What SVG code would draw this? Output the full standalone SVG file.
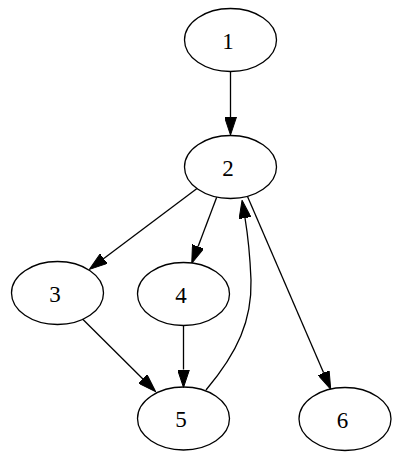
<svg xmlns="http://www.w3.org/2000/svg" width="400" height="458" viewBox="0 0 400 458">
<style>
.node ellipse{fill:none;stroke:#000;stroke-width:1.3}
.node text{font-family:"Liberation Serif","Times New Roman",serif;font-size:23px;text-anchor:middle;fill:#000}
.edge{fill:none;stroke:#000;stroke-width:1.3}
</style>
<defs>
<marker id="ah" viewBox="0 0 18 12" refX="0" refY="6" markerWidth="18" markerHeight="12" markerUnits="userSpaceOnUse" orient="auto">
<path d="M0,0 L18,6 L0,12 Z" fill="#000" stroke="#000" stroke-width="1"/>
</marker>
</defs>
<rect width="400" height="458" fill="#fff"/>
<g id="edges">
<path class="edge" marker-end="url(#ah)" d="M230.5,71 L230.5,117"/>
<path class="edge" marker-end="url(#ah)" d="M197,188.5 L103.8,258.6"/>
<path class="edge" marker-end="url(#ah)" d="M216.7,197.3 L198.1,246.5"/>
<path class="edge" marker-end="url(#ah)" d="M247.5,196.5 L323.6,372.8"/>
<path class="edge" marker-end="url(#ah)" d="M82.5,319 L142.9,379"/>
<path class="edge" marker-end="url(#ah)" d="M183.5,326 L183.5,369.5"/>
<path class="edge" marker-end="url(#ah)" d="M206,390 C238,352 252,320 251,280 C250,255 248,236 245,218"/>
</g>
<g id="n1" class="node"><ellipse cx="230.5" cy="40" rx="46" ry="31.5"/><text x="228" y="48.5">1</text></g>
<g id="n2" class="node"><ellipse cx="230.5" cy="167" rx="46" ry="31.5"/><text x="228" y="175.5">2</text></g>
<g id="n3" class="node"><ellipse cx="57.5" cy="293" rx="46" ry="31.5"/><text x="55" y="301.5">3</text></g>
<g id="n4" class="node"><ellipse cx="183.5" cy="294" rx="46" ry="31.5"/><text x="181" y="302.5">4</text></g>
<g id="n5" class="node"><ellipse cx="183.5" cy="418.5" rx="46" ry="31.5"/><text x="181" y="427">5</text></g>
<g id="n6" class="node"><ellipse cx="345" cy="419" rx="46" ry="31.5"/><text x="342.5" y="427.5">6</text></g>
</svg>
